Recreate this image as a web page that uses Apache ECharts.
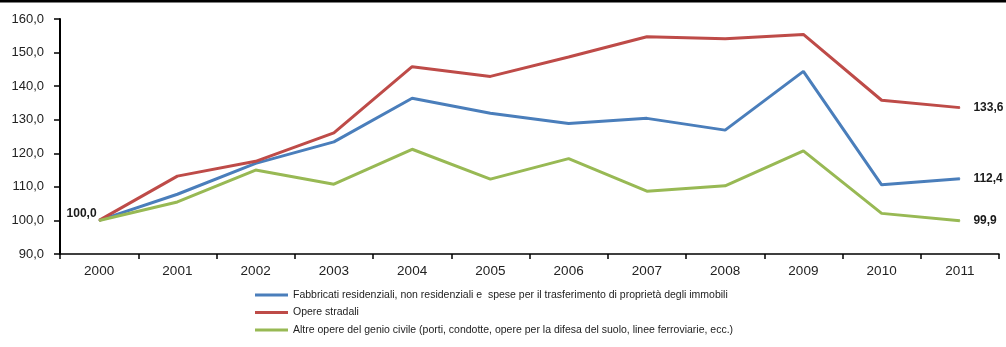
<!DOCTYPE html>
<html>
<head>
<meta charset="utf-8">
<script src="https://cdn.jsdelivr.net/npm/echarts@6/dist/echarts.min.js"></script>
<style>
  html, body { margin: 0; padding: 0; background: #fff; }
  #chart { width: 1006px; height: 347px; }
</style>
</head>
<body>
<div id="chart"></div>
<script>
// Categories (years) and index values (2000 = 100)
const years = ['2000', '2001', '2002', '2003', '2004', '2005', '2006', '2007', '2008', '2009', '2010', '2011'];
const fabbricati = [100.0, 107.8, 117.0, 123.4, 136.4, 131.9, 128.9, 130.4, 126.9, 144.4, 110.6, 112.4];
const opereStradali = [100.0, 113.2, 117.6, 126.1, 145.8, 142.9, 148.7, 154.7, 154.1, 155.4, 135.8, 133.6];
const altreOpere = [100.0, 105.5, 115.0, 110.8, 121.2, 112.3, 118.4, 108.7, 110.3, 120.7, 102.1, 99.9];

const seriesNames = [
  'Fabbricati residenziali, non residenziali e  spese per il trasferimento di proprietà degli immobili',
  'Opere stradali',
  'Altre opere del genio civile (porti, condotte, opere per la difesa del suolo, linee ferroviarie, ecc.)'
];
const colors = ['#4A7EBB', '#BE4B48', '#98B954'];

const fmt = v => v.toFixed(1).replace('.', ',');

const labelFont = { fontFamily: 'Liberation Sans', fontSize: 12, fontWeight: 'bold', color: '#1a1a1a' };

// Label the last point of each series; the start value is labelled once
function buildData(values, labelStart) {
  return values.map((v, i) => {
    if (i === values.length - 1) {
      return { value: v, label: Object.assign({ show: true, position: 'right', distance: 13, formatter: p => fmt(p.value) }, labelFont) };
    }
    if (i === 0 && labelStart) {
      return { value: v, label: Object.assign({ show: true, position: 'left', distance: 2, offset: [0, -7], formatter: p => fmt(p.value) }, labelFont) };
    }
    return v;
  });
}

const allValues = [fabbricati, opereStradali, altreOpere];

const chart = echarts.init(document.getElementById('chart'), null, { renderer: 'canvas' });
chart.setOption({
  animation: false,
  backgroundColor: '#fff',
  grid: { left: 60, right: 7, top: 19, bottom: 93, containLabel: false },
  graphic: [{
    type: 'rect',
    shape: { x: 0, y: 0, width: 1006, height: 2.5 },
    style: { fill: '#000' }
  }],
  xAxis: {
    type: 'category',
    data: years,
    boundaryGap: true,
    axisLine: { lineStyle: { color: '#000', width: 1.5 } },
    axisTick: { show: true, length: 5, inside: false, lineStyle: { color: '#000', width: 1.5 } },
    axisLabel: { margin: 10, fontFamily: 'Liberation Sans', fontSize: 13.5, color: '#222' },
    splitLine: { show: false }
  },
  yAxis: {
    type: 'value',
    min: 90,
    max: 160,
    interval: 10,
    axisLine: { show: true, lineStyle: { color: '#000', width: 2 } },
    axisTick: { show: true, length: 6, inside: false, lineStyle: { color: '#000', width: 1.5 } },
    axisLabel: { margin: 16, fontFamily: 'Liberation Sans', fontSize: 13, color: '#222', formatter: v => fmt(v) },
    splitLine: { show: false }
  },
  legend: {
    orient: 'vertical',
    left: 255,
    top: 289,
    padding: 0,
    icon: 'rect',
    itemWidth: 33,
    itemHeight: 3,
    itemGap: 5.5,
    selectedMode: false,
    textStyle: { fontFamily: 'Liberation Sans', fontSize: 10.5, color: '#222', lineHeight: 12 },
    data: seriesNames
  },
  series: seriesNames.map((name, k) => ({
    name: name,
    type: 'line',
    data: buildData(allValues[k], k === 2),
    symbol: 'circle',
    symbolSize: 1,
    showSymbol: true,
    lineStyle: { color: colors[k], width: 3 },
    itemStyle: { color: colors[k] },
    z: 2 + k
  }))
});
</script>
</body>
</html>
